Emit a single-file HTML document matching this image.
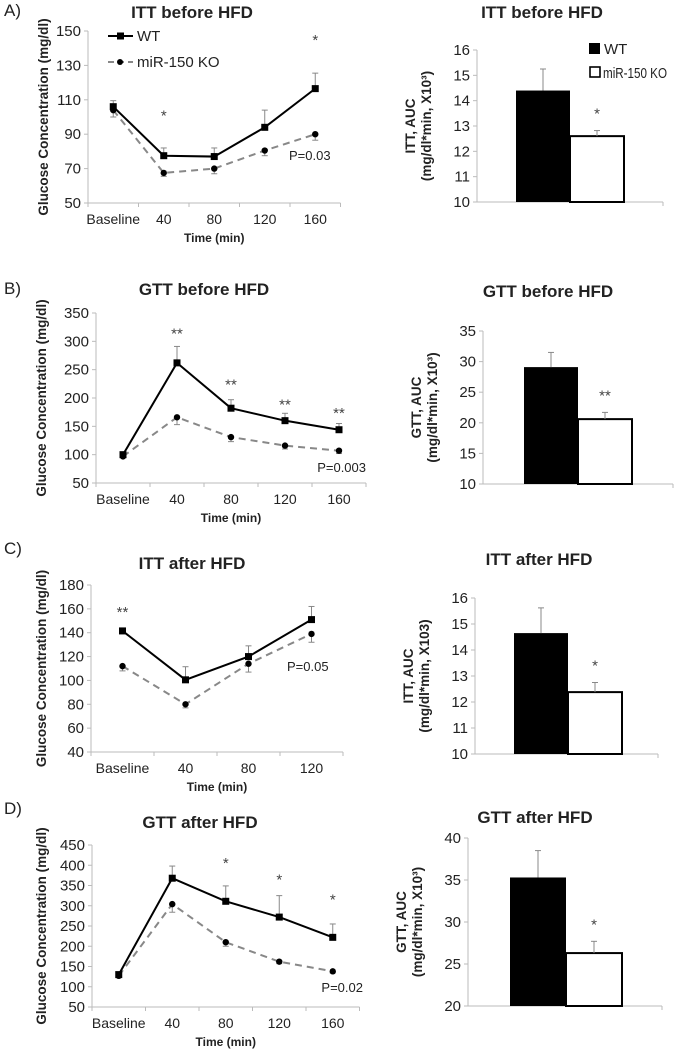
<!DOCTYPE html>
<html><head><meta charset="utf-8">
<style>
html,body{margin:0;padding:0;background:#fff;}
svg{display:block;font-family:"Liberation Sans",sans-serif;}
</style></head>
<body>
<svg id="fig" width="674" height="1050" viewBox="0 0 674 1050" xmlns="http://www.w3.org/2000/svg"></svg>
<script>
// ---- data ----
const timeCatsA = ["Baseline","40","80","120","160"];
const ittBeforeWt = [106, 77.5, 77, 94, 116.5];
const ittBeforeWtErr = [3.5, 4.5, 5, 10, 9];
const ittBeforeKo = [104, 67.5, 70, 80.5, 90];
const ittBeforeKoErr = [4, 2, 3, 3, 3.5];
const ittBeforeTicks = [50,70,90,110,130,150];

const gttBeforeWt = [100, 262, 182, 160, 144];
const gttBeforeWtErr = [2, 29, 15, 13, 11];
const gttBeforeKo = [97, 166, 131, 116, 107];
const gttBeforeKoErr = [2, 13, 8, 6, 5];
const gttBeforeTicks = [50,100,150,200,250,300,350];

const timeCatsC = ["Baseline","40","80","120"];
const ittAfterWt = [141.5, 100.5, 120, 151];
const ittAfterWtErr = [1, 11, 9, 11];
const ittAfterKo = [112, 80, 114, 139];
const ittAfterKoErr = [4, 3, 7, 7];
const ittAfterTicks = [40,60,80,100,120,140,160,180];

const gttAfterWt = [130, 368, 311, 272, 222];
const gttAfterWtErr = [2, 30, 38, 53, 33];
const gttAfterKo = [127, 304, 210, 162, 138];
const gttAfterKoErr = [3, 20, 10, 5, 4];
const gttAfterTicks = [50,100,150,200,250,300,350,400,450];

const barGroups = ["WT","miR-150 KO"];
const ittBeforeAuc = [14.4, 12.6];
const ittBeforeAucErr = [0.85, 0.22];
const ittBeforeAucTicks = [10,11,12,13,14,15,16];
const gttBeforeAuc = [29.1, 20.6];
const gttBeforeAucErr = [2.4, 1.1];
const gttBeforeAucTicks = [10,15,20,25,30,35];
const ittAfterAuc = [14.65, 12.38];
const ittAfterAucErr = [0.97, 0.37];
const ittAfterAucTicks = [10,11,12,13,14,15,16];
const gttAfterAuc = [35.3, 26.3];
const gttAfterAucErr = [3.2, 1.4];
const gttAfterAucTicks = [20,25,30,35,40];

const svg = document.getElementById('fig');
const NS = "http://www.w3.org/2000/svg";
function mk(tag, attrs, parent, text){
  const e = document.createElementNS(NS, tag);
  for (const k in attrs) e.setAttribute(k, attrs[k]);
  if (text !== undefined) e.textContent = text;
  (parent||svg).appendChild(e);
  return e;
}
function grp(name){
  const g = mk('g', {});
  
  
  return g;
}
function label(g, x, y, txt, size, opts, name){
  const a = Object.assign({x:x, y:y, 'font-size':size, fill:'#222', 'text-anchor':'middle'}, opts||{});
  const t = mk('text', a, g, txt);
  
  
  return t;
}

function lineChart(p){
  const g = grp(p.name);
  const ys = v => p.yTop + (p.yMax - v) / (p.yMax - p.yMin) * (p.yBot - p.yTop);
  const xs = i => p.x0 + p.band * (i + 0.5);
  const xEnd = p.x0 + p.band * p.cats.length;
  const ya = mk('line', {x1:p.x0, y1:p.yTop, x2:p.x0, y2:p.yBot, stroke:'#bbb', 'stroke-width':1}, g);
   
  const xa = mk('line', {x1:p.x0, y1:p.yBot, x2:xEnd, y2:p.yBot, stroke:'#bbb', 'stroke-width':1}, g);
   
  p.ticks.forEach(t => {
    mk('line', {x1:p.x0-4, y1:ys(t), x2:p.x0, y2:ys(t), stroke:'#bbb'}, g);
    label(g, p.x0-7, ys(t)+5, String(t), 15, {'text-anchor':'end'}, 'y-tick-label');
  });
  for (let i=0;i<=p.cats.length;i++){
    mk('line', {x1:p.x0+p.band*i, y1:p.yBot, x2:p.x0+p.band*i, y2:p.yBot+4, stroke:'#bbb'}, g);
  }
  p.cats.forEach((c,i) => label(g, xs(i), p.yBot+21, c, 14, {}, 'x-tick-label'));
  label(g, p.x0 + (xEnd-p.x0)/2, p.yBot+39, 'Time (min)', 12, {'font-weight':'bold'}, 'x-axis-title');
  label(g, 0, 0, 'Glucose Concentration (mg/dl)', 13.5, {'font-weight':'bold', transform:`translate(${p.ytX},${(p.yTop+p.yBot)/2}) rotate(-90)`}, 'y-axis-title');
  label(g, p.titleX, p.titleY, p.title, 17, {'font-weight':'bold'}, 'chart-title');
  p.wt.forEach((v,i) => {
    const e = mk('line', {x1:xs(i), y1:ys(v), x2:xs(i), y2:ys(v+p.wtErr[i]), stroke:'#888', 'stroke-width':1}, g);
     
    mk('line', {x1:xs(i)-3, y1:ys(v+p.wtErr[i]), x2:xs(i)+3, y2:ys(v+p.wtErr[i]), stroke:'#888'}, g);
  });
  p.ko.forEach((v,i) => {
    const e = mk('line', {x1:xs(i), y1:ys(v), x2:xs(i), y2:ys(v-p.koErr[i]), stroke:'#888', 'stroke-width':1}, g);
     
    mk('line', {x1:xs(i)-3, y1:ys(v-p.koErr[i]), x2:xs(i)+3, y2:ys(v-p.koErr[i]), stroke:'#888'}, g);
  });
  const ko = mk('polyline', {points:p.ko.map((v,i)=>xs(i)+','+ys(v)).join(' '), fill:'none', stroke:'#888', 'stroke-width':2, 'stroke-dasharray':'7,5'}, g);
   
  const wt = mk('polyline', {points:p.wt.map((v,i)=>xs(i)+','+ys(v)).join(' '), fill:'none', stroke:'#000', 'stroke-width':2}, g);
   
  p.ko.forEach((v,i) => {
    const c = mk('circle', {cx:xs(i), cy:ys(v), r:3.2, fill:'#000'}, g);
     
  });
  p.wt.forEach((v,i) => {
    const r = mk('rect', {x:xs(i)-3.5, y:ys(v)-3.5, width:7, height:7, fill:'#000'}, g);
     
  });
  p.stars.forEach(s => label(g, xs(s[0]), ys(s[1]), s[2], 15, {fill:'#444'}, 'significance-star'));
  label(g, p.pX, p.pY, p.pText, 13, {'text-anchor':p.pAnchor}, 'p-value');
  label(g, 4, p.letterY, p.letter, 17, {'text-anchor':'start'}, 'panel-letter');
  return g;
}

function barChart(p){
  const g = grp(p.name);
  const ys = v => p.yTop + (p.yMax - v) / (p.yMax - p.yMin) * (p.yBot - p.yTop);
  mk('line', {x1:p.x0, y1:p.yTop, x2:p.x0, y2:p.yBot, stroke:'#bbb'}, g);
  mk('line', {x1:p.x0, y1:p.yBot, x2:p.xEnd, y2:p.yBot, stroke:'#bbb'}, g);
  mk('line', {x1:p.xEnd, y1:p.yBot, x2:p.xEnd, y2:p.yBot+4, stroke:'#bbb'}, g);
  p.ticks.forEach(t => {
    mk('line', {x1:p.x0-4, y1:ys(t), x2:p.x0, y2:ys(t), stroke:'#bbb'}, g);
    label(g, p.x0-7, ys(t)+5, String(t), 15, {'text-anchor':'end'}, 'y-tick-label');
  });
  p.vals.forEach((v,i) => {
    const x = p.barX + i*p.barW;
    const r = mk('rect', {x:x, y:ys(v), width:p.barW, height:p.yBot-ys(v), fill: i===0?'#000':'#fff', stroke:'#000', 'stroke-width': i===0?0:2}, g);
    
    
    const cx = x + p.barW/2;
    mk('line', {x1:cx, y1:ys(v), x2:cx, y2:ys(v+p.errs[i]), stroke:'#888'}, g);
    mk('line', {x1:cx-3, y1:ys(v+p.errs[i]), x2:cx+3, y2:ys(v+p.errs[i]), stroke:'#888'}, g);
  });
  const kx = p.barX + p.barW*1.5;
  label(g, kx, ys(p.vals[1]+p.errs[1]) - 12, p.star, 15, {fill:'#444'}, 'significance-star');
  const midY = (p.yTop+p.yBot)/2;
  label(g, 0, 0, p.yLab1, 13.5, {'font-weight':'bold', transform:`translate(${p.ytX},${midY}) rotate(-90)`}, 'y-axis-title');
  label(g, 0, 0, p.yLab2, 13.5, {'font-weight':'bold', transform:`translate(${p.ytX+16},${midY}) rotate(-90)`}, 'y-axis-subtitle');
  label(g, p.titleX, p.titleY, p.title, 17, {'font-weight':'bold'}, 'chart-title');
  return g;
}

lineChart({name:'itt-before-line-chart', cats:timeCatsA, wt:ittBeforeWt, wtErr:ittBeforeWtErr, ko:ittBeforeKo, koErr:ittBeforeKoErr, ticks:ittBeforeTicks,
  yMin:50, yMax:150, yTop:31, yBot:203, x0:88, band:50.5, ytX:48, title:'ITT before HFD', titleX:192, titleY:18,
  stars:[[1,98,'*'],[4,142,'*']], pText:'P=0.03', pX:289, pY:160, pAnchor:'start', letter:'A)', letterY:16});
(function(){
  const g = grp('line-legend');
  mk('line', {x1:108, y1:36, x2:133, y2:36, stroke:'#000', 'stroke-width':2}, g);
  mk('rect', {x:117, y:32.5, width:7, height:7, fill:'#000'}, g);
  label(g, 137, 41, 'WT', 15, {'text-anchor':'start'}, 'legend-wt');
  mk('line', {x1:108, y1:62, x2:133, y2:62, stroke:'#888', 'stroke-width':2, 'stroke-dasharray':'6,4'}, g);
  mk('circle', {cx:120, cy:62, r:3, fill:'#000'}, g);
  label(g, 137, 67, 'miR-150 KO', 15, {'text-anchor':'start'}, 'legend-ko');
})();
lineChart({name:'gtt-before-line-chart', cats:timeCatsA, wt:gttBeforeWt, wtErr:gttBeforeWtErr, ko:gttBeforeKo, koErr:gttBeforeKoErr, ticks:gttBeforeTicks,
  yMin:50, yMax:350, yTop:313, yBot:483, x0:96, band:54, ytX:46, title:'GTT before HFD', titleX:204, titleY:295,
  stars:[[1,305,'**'],[2,215,'**'],[3,180,'**'],[4,165,'**']], pText:'P=0.003', pX:366, pY:472, pAnchor:'end', letter:'B)', letterY:294});
lineChart({name:'itt-after-line-chart', cats:timeCatsC, wt:ittAfterWt, wtErr:ittAfterWtErr, ko:ittAfterKo, koErr:ittAfterKoErr, ticks:ittAfterTicks,
  yMin:40, yMax:180, yTop:585, yBot:752, x0:91, band:63, ytX:46, title:'ITT after HFD', titleX:192, titleY:569,
  stars:[[0,153,'**']], pText:'P=0.05', pX:287, pY:671, pAnchor:'start', letter:'C)', letterY:554});
lineChart({name:'gtt-after-line-chart', cats:timeCatsA, wt:gttAfterWt, wtErr:gttAfterWtErr, ko:gttAfterKo, koErr:gttAfterKoErr, ticks:gttAfterTicks,
  yMin:50, yMax:450, yTop:845, yBot:1007, x0:92, band:53.5, ytX:46, title:'GTT after HFD', titleX:200, titleY:828,
  stars:[[2,393,'*'],[3,353,'*'],[4,303,'*']], pText:'P=0.02', pX:363, pY:992, pAnchor:'end', letter:'D)', letterY:814});

barChart({name:'itt-before-auc-bar-chart', vals:ittBeforeAuc, errs:ittBeforeAucErr, ticks:ittBeforeAucTicks, yMin:10, yMax:16, yTop:50, yBot:202,
  x0:477, xEnd:663, barX:516, barW:54, star:'*', ytX:415, yLab1:'ITT, AUC', yLab2:'(mg/dl*min, X10³)', title:'ITT before HFD', titleX:542, titleY:18});
(function(){
  const g = grp('bar-legend');
  mk('rect', {x:589, y:43, width:11, height:11, fill:'#000'}, g);
  label(g, 604, 54, 'WT', 15, {'text-anchor':'start'}, 'legend-wt');
  mk('rect', {x:590, y:67, width:10, height:10, fill:'#fff', stroke:'#000', 'stroke-width':1.6}, g);
  label(g, 603, 78, 'miR-150 KO', 15, {'text-anchor':'start', textLength:'64', lengthAdjust:'spacingAndGlyphs'}, 'legend-ko');
})();
barChart({name:'gtt-before-auc-bar-chart', vals:gttBeforeAuc, errs:gttBeforeAucErr, ticks:gttBeforeAucTicks, yMin:10, yMax:35, yTop:331, yBot:484,
  x0:483, xEnd:673, barX:524, barW:54, star:'**', ytX:421, yLab1:'GTT, AUC', yLab2:'(mg/dl*min, X10³)', title:'GTT before HFD', titleX:548, titleY:297});
barChart({name:'itt-after-auc-bar-chart', vals:ittAfterAuc, errs:ittAfterAucErr, ticks:ittAfterAucTicks, yMin:10, yMax:16, yTop:598, yBot:754,
  x0:475, xEnd:658, barX:514, barW:54, star:'*', ytX:413, yLab1:'ITT, AUC', yLab2:'(mg/dl*min, X103)', title:'ITT after HFD', titleX:539, titleY:565});
barChart({name:'gtt-after-auc-bar-chart', vals:gttAfterAuc, errs:gttAfterAucErr, ticks:gttAfterAucTicks, yMin:20, yMax:40, yTop:838, yBot:1006,
  x0:468, xEnd:662, barX:510, barW:56, star:'*', ytX:406, yLab1:'GTT, AUC', yLab2:'(mg/dl*min, X10³)', title:'GTT after HFD', titleX:535, titleY:823});
</script>
</body></html>
